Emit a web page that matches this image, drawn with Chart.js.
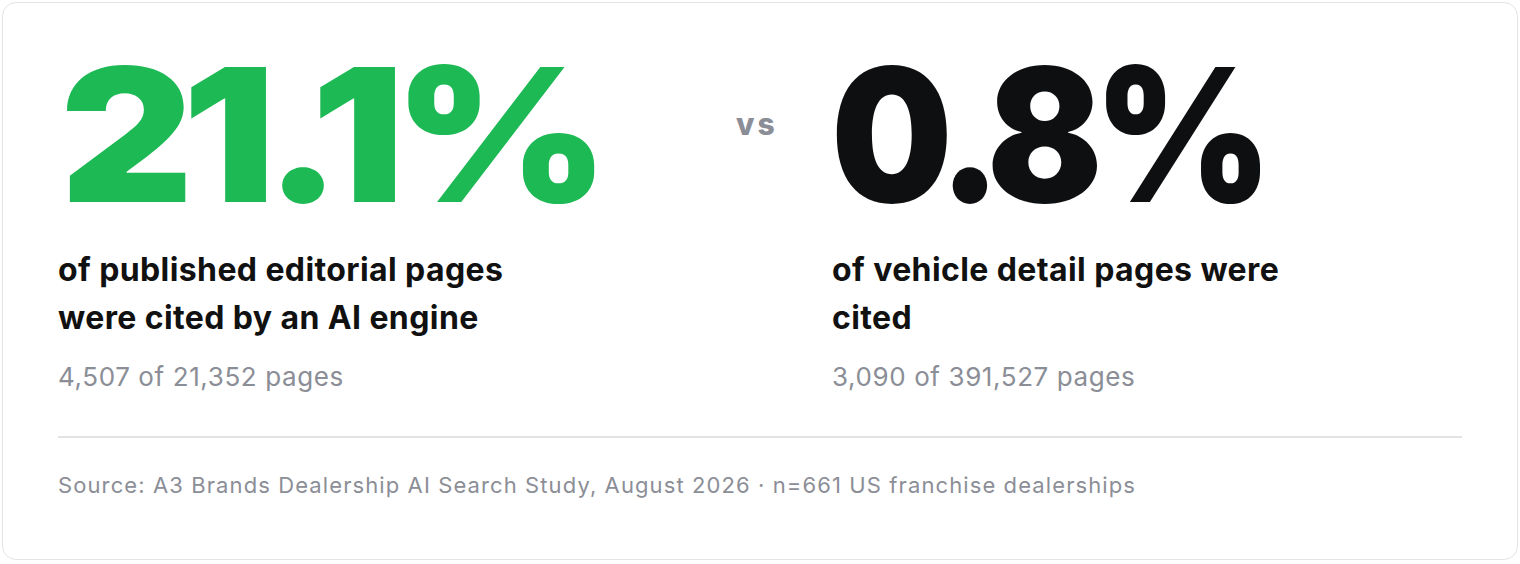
<!DOCTYPE html>
<html><head><meta charset="utf-8">
<script src="https://cdn.jsdelivr.net/npm/chart.js@4.4.1/dist/chart.umd.min.js"></script>
<style>
html,body{margin:0;padding:0;background:#fff;font-family:Inter,"Noto Sans",sans-serif;}
.card{position:absolute;left:2px;top:2px;width:1516px;height:558px;border:1.5px solid #e3e3e6;border-radius:14px;box-sizing:border-box;}
.big{position:absolute;font-weight:900;font-size:186px;letter-spacing:-10px;line-height:1;transform-origin:left top;}
.sub{position:absolute;font-weight:700;font-size:32px;letter-spacing:0.4px;line-height:48px;color:#111;}
.cnt{position:absolute;font-size:26px;letter-spacing:0.6px;color:#8b8e96;}
.vs{position:absolute;left:736px;top:106px;font-weight:800;font-size:30px;color:#8b8e96;letter-spacing:3px;}
.div{position:absolute;left:58px;top:436px;width:1404px;height:1.5px;background:#e3e3e6;}
.src{position:absolute;left:58px;top:472px;font-size:22px;letter-spacing:1.1px;color:#8b8e96;}
#c{position:absolute;left:0;top:0;width:1px;height:1px;opacity:0;}
</style></head><body>
<div class="card"></div>
<div class="big" id="b0" style="left:60px;top:42px;color:#1db954;transform:scaleX(1.11)"></div>
<div class="vs">vs</div>
<div class="big" id="b1" style="left:831px;top:42px;color:#0e0f11;transform:scaleX(0.92)"></div>
<div class="sub" id="s0" style="left:58px;top:246px;width:500px"></div>
<div class="sub" id="s1" style="left:832px;top:246px;width:500px"></div>
<div class="cnt" id="c0" style="left:58px;top:361px"></div>
<div class="cnt" id="c1" style="left:832px;top:361px"></div>
<div class="div"></div>
<div class="src" id="src"></div>
<canvas id="c"></canvas>
<script>
const categories=["Editorial pages","Vehicle detail pages"];
const percents=["21.1%","0.8%"];
const subtitles=["of published editorial pages were cited by an AI engine","of vehicle detail pages were cited"];
const counts=["4,507 of 21,352 pages","3,090 of 391,527 pages"];
const source="Source: A3 Brands Dealership AI Search Study, August 2026 · n=661 US franchise dealerships";
for(let i=0;i<2;i++){
document.getElementById('b'+i).textContent=percents[i];
document.getElementById('s'+i).textContent=subtitles[i];
document.getElementById('c'+i).textContent=counts[i];}
document.getElementById('src').textContent=source;
new Chart(document.getElementById('c'),{type:'bar',data:{labels:categories,datasets:[{data:percents.map(parseFloat)}]},options:{animation:false,responsive:false,plugins:{legend:{display:false}}}});
</script></body></html>
